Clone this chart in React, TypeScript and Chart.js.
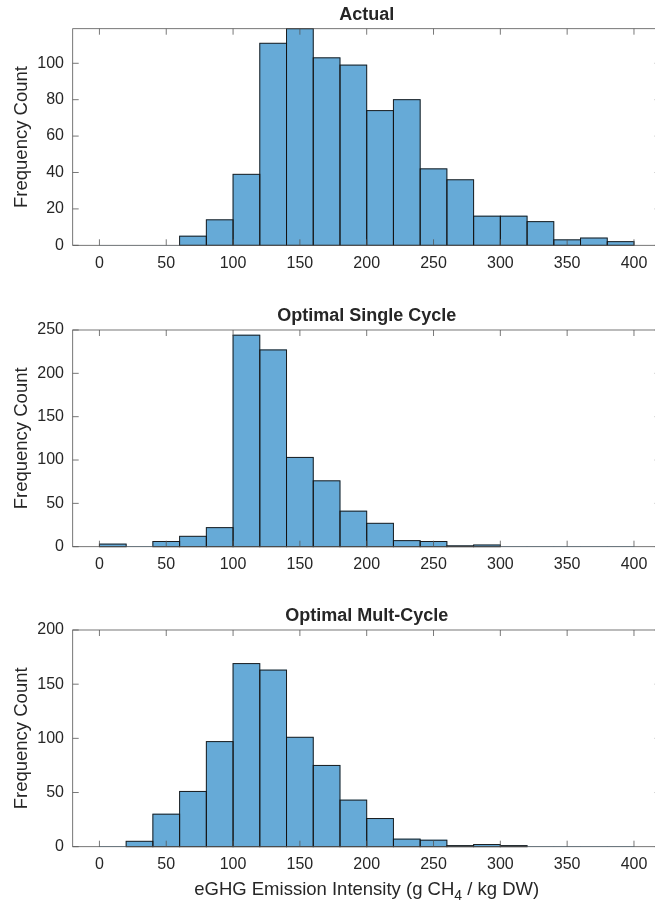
import React, { useEffect, useRef } from "react";
import { Chart, registerables } from "chart.js";

Chart.register(...registerables);

// ---- data ----
const binStarts = [0, 20, 40, 60, 80, 100, 120, 140, 160, 180, 200, 220, 240, 260, 280, 300, 320, 340, 360, 380];
const binWidth = 20;
const actualCounts = [0, 0, 0, 5, 14, 39, 111, 119, 103, 99, 74, 80, 42, 36, 16, 16, 13, 3, 4, 2];
const singleCycleCounts = [3, 0, 6, 12, 22, 244, 227, 103, 76, 41, 27, 7, 6, 1, 2, 0, 0, 0, 0, 0];
const multCycleCounts = [0, 5, 30, 51, 97, 169, 163, 101, 75, 43, 26, 7, 6, 1, 2, 1, 0, 0, 0, 0];
const xTicks = [0, 50, 100, 150, 200, 250, 300, 350, 400];
const yTicksActual = [0, 20, 40, 60, 80, 100];
const yTicksSingle = [0, 50, 100, 150, 200, 250];
const yTicksMult = [0, 50, 100, 150, 200];
const titles = ["Actual", "Optimal Single Cycle", "Optimal Mult-Cycle"];
const yTitle = "Frequency Count";
const xTitleMain = "eGHG Emission Intensity (g CH";
const xTitleSub = "4";
const xTitleEnd = " / kg DW)";

const FONT = "'Liberation Sans', Arial, Helvetica, sans-serif";
const TEXT = "#262626";
const FILL = "rgb(102,170,215)";
const EDGE = "rgba(20,20,20,0.95)";
const FRAME = "#555555";

const matlabPlugin = {
  id: "matlabFrame",
  afterDatasetsDraw(chart: any) {
    const { ctx } = chart;
    const meta = chart.getDatasetMeta(0);
    const data = chart.data.datasets[0].data as any[];
    ctx.save();
    ctx.strokeStyle = EDGE;
    ctx.lineWidth = 1;
    meta.data.forEach((el: any, i: number) => {
      if (!data[i] || data[i].y <= 0) return;
      const p = el.getProps(["x", "y", "base", "width"], true);
      ctx.strokeRect(p.x - p.width / 2, p.y, p.width, p.base - p.y);
    });
    ctx.restore();
  },
  afterDraw(chart: any, _args: any, opts: any) {
    const { ctx, chartArea: a } = chart;
    const xs = chart.scales.x;
    const ys = chart.scales.y;
    ctx.save();
    ctx.strokeStyle = FRAME;
    ctx.lineWidth = 0.8;
    ctx.strokeRect(a.left, a.top, a.right - a.left, a.bottom - a.top);
    const tl = 6;
    ctx.beginPath();
    xs.ticks.forEach((t: any) => {
      const px = xs.getPixelForValue(t.value);
      ctx.moveTo(px, a.bottom);
      ctx.lineTo(px, a.bottom - tl);
      ctx.moveTo(px, a.top);
      ctx.lineTo(px, a.top + tl);
    });
    ys.ticks.forEach((t: any) => {
      const py = ys.getPixelForValue(t.value);
      ctx.moveTo(a.left, py);
      ctx.lineTo(a.left + tl, py);
      ctx.moveTo(a.right, py);
      ctx.lineTo(a.right - tl, py);
    });
    ctx.stroke();

    ctx.fillStyle = TEXT;
    // title
    ctx.font = `bold 18px ${FONT}`;
    ctx.textAlign = "center";
    ctx.textBaseline = "middle";
    ctx.fillText(opts.title, (a.left + a.right) / 2, a.top - 14);

    // y title
    ctx.save();
    ctx.translate(opts.yTitleX, (a.top + a.bottom) / 2);
    ctx.rotate(-Math.PI / 2);
    ctx.font = `18.5px ${FONT}`;
    ctx.fillText(yTitle, 0, 0);
    ctx.restore();

    if (opts.showXTitle) {
      const mainFont = `18.5px ${FONT}`;
      const subFont = `14px ${FONT}`;
      ctx.font = mainFont;
      const w1 = ctx.measureText(xTitleMain).width;
      const w3 = ctx.measureText(xTitleEnd).width;
      ctx.font = subFont;
      const w2 = ctx.measureText(xTitleSub).width;
      const total = w1 + w2 + w3;
      const cx = (a.left + a.right) / 2;
      const y = a.bottom + 43;
      let x = cx - total / 2;
      ctx.textAlign = "left";
      ctx.font = mainFont;
      ctx.fillText(xTitleMain, x, y);
      x += w1;
      ctx.font = subFont;
      ctx.fillText(xTitleSub, x, y + 6);
      x += w2;
      ctx.font = mainFont;
      ctx.fillText(xTitleEnd, x, y);
    }
    ctx.restore();
  },
};

type PanelDef = {
  top: number;
  height: number;
  padTop: number;
  xScaleHeight: number;
  counts: number[];
  yTicks: number[];
  yMax: number;
  title: string;
  showXTitle: boolean;
};

const CANVAS_W = 672;
const Y_AXIS_W = 72.7;
const RIGHT_PAD = 11.3;

const panels: PanelDef[] = [
  { top: 0, height: 300, padTop: 28.7, xScaleHeight: 54.7, counts: actualCounts, yTicks: yTicksActual, yMax: 119, title: titles[0], showXTitle: false },
  { top: 300, height: 300, padTop: 30, xScaleHeight: 53.3, counts: singleCycleCounts, yTicks: yTicksSingle, yMax: 250, title: titles[1], showXTitle: false },
  { top: 600, height: 304, padTop: 30, xScaleHeight: 57.3, counts: multCycleCounts, yTicks: yTicksMult, yMax: 200, title: titles[2], showXTitle: true },
];

function makeChart(canvas: HTMLCanvasElement, p: PanelDef) {
  const data = binStarts.map((s, i) => ({ x: s + binWidth / 2, y: p.counts[i] }));
  return new Chart(canvas, {
    type: "bar",
    data: {
      datasets: [
        {
          data: data as any,
          backgroundColor: FILL,
          borderWidth: 0,
          barPercentage: 1,
          categoryPercentage: 1,
        },
      ],
    },
    options: {
      animation: false,
      responsive: false,
      devicePixelRatio: 1,
      layout: { padding: { top: p.padTop, left: 0, right: RIGHT_PAD, bottom: 0 } },
      plugins: {
        legend: { display: false },
        tooltip: { enabled: false },
        title: { display: false },
        matlabFrame: { title: p.title, showXTitle: p.showXTitle, yTitleX: 22 },
      } as any,
      scales: {
        x: {
          type: "linear",
          offset: false,
          min: -20,
          max: 420,
          grid: { display: false, drawTicks: false, offset: false },
          border: { display: false },
          ticks: {
            font: { family: FONT, size: 16 },
            color: TEXT,
            padding: 8.4,
            maxRotation: 0,
          },
          afterBuildTicks: (s: any) => {
            s.ticks = xTicks.map((v) => ({ value: v }));
          },
          afterFit: (s: any) => {
            s.height = p.xScaleHeight;
          },
        },
        y: {
          type: "linear",
          min: 0,
          max: p.yMax,
          grid: { display: false, drawTicks: false },
          border: { display: false },
          ticks: {
            font: { family: FONT, size: 16 },
            color: TEXT,
            padding: 8.7,
          },
          afterBuildTicks: (s: any) => {
            s.ticks = p.yTicks.map((v) => ({ value: v }));
          },
          afterFit: (s: any) => {
            s.width = Y_AXIS_W;
          },
        },
      },
    },
    plugins: [matlabPlugin as any],
  });
}

export default function App() {
  const refs = [useRef<HTMLCanvasElement>(null), useRef<HTMLCanvasElement>(null), useRef<HTMLCanvasElement>(null)];
  useEffect(() => {
    const charts = panels.map((p, i) => makeChart(refs[i].current as HTMLCanvasElement, p));
    return () => charts.forEach((c) => c.destroy());
  }, []);
  return (
    <div
      style={{
        position: "fixed",
        left: 0,
        top: 0,
        width: 655,
        height: 904,
        overflow: "hidden",
        background: "#ffffff",
      }}
    >
      {panels.map((p, i) => (
        <canvas
          key={i}
          ref={refs[i]}
          width={CANVAS_W}
          height={p.height}
          style={{ position: "absolute", left: 0, top: p.top, width: CANVAS_W, height: p.height, display: "block" }}
        />
      ))}
    </div>
  );
}
